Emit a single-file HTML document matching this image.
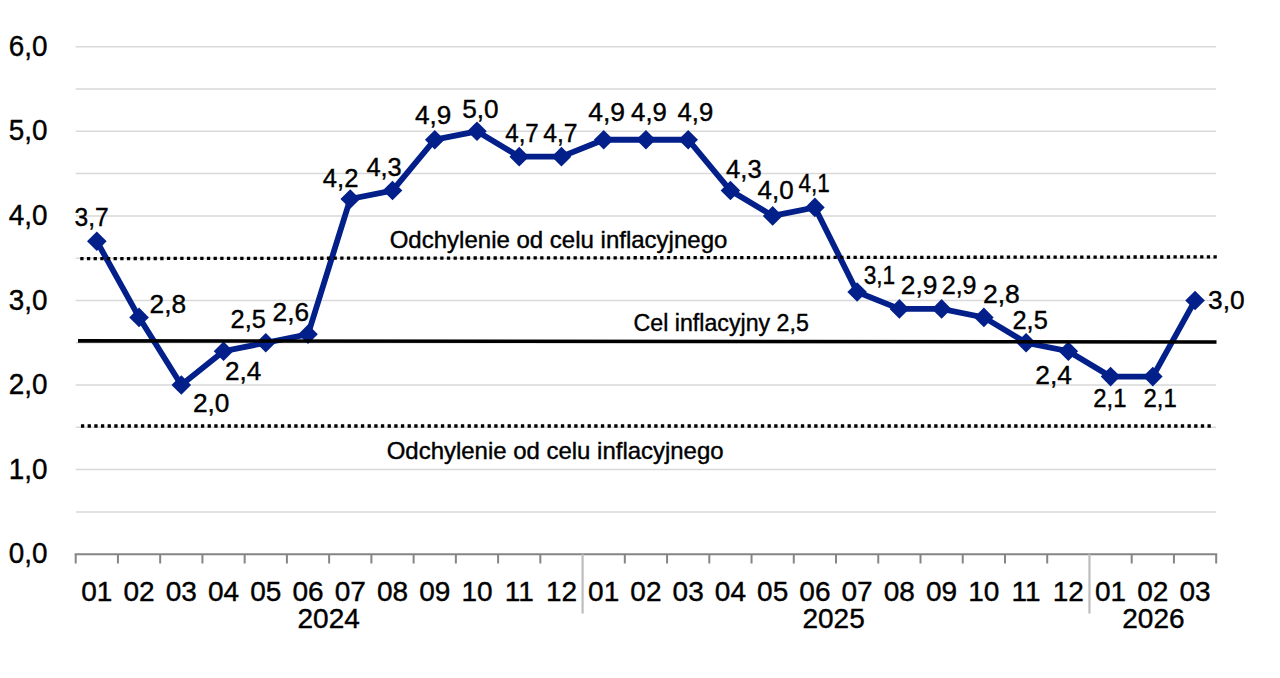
<!DOCTYPE html><html><head><meta charset="utf-8"><style>html,body{margin:0;padding:0;background:#fff;overflow:hidden}svg{display:block}text{font-family:"Liberation Sans",sans-serif;fill:#000;stroke:#000;stroke-width:0.4px}</style></head><body>
<svg width="1280" height="678" viewBox="0 0 1280 678">
<rect width="1280" height="678" fill="#fff"/>
<line x1="75.7" y1="511.91" x2="1216.2" y2="511.91" stroke="#d9d9d9" stroke-width="1.5"/>
<line x1="75.7" y1="469.62" x2="1216.2" y2="469.62" stroke="#d9d9d9" stroke-width="1.5"/>
<line x1="75.7" y1="427.33" x2="1216.2" y2="427.33" stroke="#d9d9d9" stroke-width="1.5"/>
<line x1="75.7" y1="385.04" x2="1216.2" y2="385.04" stroke="#d9d9d9" stroke-width="1.5"/>
<line x1="75.7" y1="342.75" x2="1216.2" y2="342.75" stroke="#d9d9d9" stroke-width="1.5"/>
<line x1="75.7" y1="300.46" x2="1216.2" y2="300.46" stroke="#d9d9d9" stroke-width="1.5"/>
<line x1="75.7" y1="258.17" x2="1216.2" y2="258.17" stroke="#d9d9d9" stroke-width="1.5"/>
<line x1="75.7" y1="215.88" x2="1216.2" y2="215.88" stroke="#d9d9d9" stroke-width="1.5"/>
<line x1="75.7" y1="173.59" x2="1216.2" y2="173.59" stroke="#d9d9d9" stroke-width="1.5"/>
<line x1="75.7" y1="131.30" x2="1216.2" y2="131.30" stroke="#d9d9d9" stroke-width="1.5"/>
<line x1="75.7" y1="89.01" x2="1216.2" y2="89.01" stroke="#d9d9d9" stroke-width="1.5"/>
<line x1="75.7" y1="46.72" x2="1216.2" y2="46.72" stroke="#d9d9d9" stroke-width="1.5"/>
<line x1="74.7" y1="554.20" x2="1217.2" y2="554.20" stroke="#858585" stroke-width="2"/>
<line x1="75.70" y1="554.2" x2="75.70" y2="563.5" stroke="#858585" stroke-width="2"/>
<line x1="117.94" y1="554.2" x2="117.94" y2="563.5" stroke="#858585" stroke-width="2"/>
<line x1="160.18" y1="554.2" x2="160.18" y2="563.5" stroke="#858585" stroke-width="2"/>
<line x1="202.42" y1="554.2" x2="202.42" y2="563.5" stroke="#858585" stroke-width="2"/>
<line x1="244.66" y1="554.2" x2="244.66" y2="563.5" stroke="#858585" stroke-width="2"/>
<line x1="286.90" y1="554.2" x2="286.90" y2="563.5" stroke="#858585" stroke-width="2"/>
<line x1="329.14" y1="554.2" x2="329.14" y2="563.5" stroke="#858585" stroke-width="2"/>
<line x1="371.38" y1="554.2" x2="371.38" y2="563.5" stroke="#858585" stroke-width="2"/>
<line x1="413.62" y1="554.2" x2="413.62" y2="563.5" stroke="#858585" stroke-width="2"/>
<line x1="455.86" y1="554.2" x2="455.86" y2="563.5" stroke="#858585" stroke-width="2"/>
<line x1="498.10" y1="554.2" x2="498.10" y2="563.5" stroke="#858585" stroke-width="2"/>
<line x1="540.34" y1="554.2" x2="540.34" y2="563.5" stroke="#858585" stroke-width="2"/>
<line x1="582.58" y1="554.2" x2="582.58" y2="613.5" stroke="#bdbdbd" stroke-width="2.2"/>
<line x1="624.82" y1="554.2" x2="624.82" y2="563.5" stroke="#858585" stroke-width="2"/>
<line x1="667.06" y1="554.2" x2="667.06" y2="563.5" stroke="#858585" stroke-width="2"/>
<line x1="709.30" y1="554.2" x2="709.30" y2="563.5" stroke="#858585" stroke-width="2"/>
<line x1="751.54" y1="554.2" x2="751.54" y2="563.5" stroke="#858585" stroke-width="2"/>
<line x1="793.78" y1="554.2" x2="793.78" y2="563.5" stroke="#858585" stroke-width="2"/>
<line x1="836.02" y1="554.2" x2="836.02" y2="563.5" stroke="#858585" stroke-width="2"/>
<line x1="878.26" y1="554.2" x2="878.26" y2="563.5" stroke="#858585" stroke-width="2"/>
<line x1="920.50" y1="554.2" x2="920.50" y2="563.5" stroke="#858585" stroke-width="2"/>
<line x1="962.74" y1="554.2" x2="962.74" y2="563.5" stroke="#858585" stroke-width="2"/>
<line x1="1004.98" y1="554.2" x2="1004.98" y2="563.5" stroke="#858585" stroke-width="2"/>
<line x1="1047.22" y1="554.2" x2="1047.22" y2="563.5" stroke="#858585" stroke-width="2"/>
<line x1="1089.46" y1="554.2" x2="1089.46" y2="613.5" stroke="#bdbdbd" stroke-width="2.2"/>
<line x1="1131.70" y1="554.2" x2="1131.70" y2="563.5" stroke="#858585" stroke-width="2"/>
<line x1="1173.94" y1="554.2" x2="1173.94" y2="563.5" stroke="#858585" stroke-width="2"/>
<line x1="1216.18" y1="554.2" x2="1216.18" y2="563.5" stroke="#858585" stroke-width="2"/>
<polyline points="96.82,241.25 139.06,317.38 181.30,385.04 223.54,351.21 265.78,342.75 308.02,334.29 350.26,198.96 392.50,190.51 434.74,139.76 476.98,131.30 519.22,156.67 561.46,156.67 603.70,139.76 645.94,139.76 688.18,139.76 730.42,190.51 772.66,215.88 814.90,207.42 857.14,292.00 899.38,308.92 941.62,308.92 983.86,317.38 1026.10,342.75 1068.34,351.21 1110.58,376.58 1152.82,376.58 1195.06,300.46" fill="none" stroke="#021f8a" stroke-width="5.8" stroke-linejoin="miter" stroke-miterlimit="2"/>
<path d="M96.82 231.45L106.62 241.25L96.82 251.05L87.02 241.25Z" fill="#021f8a"/>
<path d="M139.06 307.58L148.86 317.38L139.06 327.18L129.26 317.38Z" fill="#021f8a"/>
<path d="M181.30 375.24L191.10 385.04L181.30 394.84L171.50 385.04Z" fill="#021f8a"/>
<path d="M223.54 341.41L233.34 351.21L223.54 361.01L213.74 351.21Z" fill="#021f8a"/>
<path d="M265.78 332.95L275.58 342.75L265.78 352.55L255.98 342.75Z" fill="#021f8a"/>
<path d="M308.02 324.49L317.82 334.29L308.02 344.09L298.22 334.29Z" fill="#021f8a"/>
<path d="M350.26 189.16L360.06 198.96L350.26 208.76L340.46 198.96Z" fill="#021f8a"/>
<path d="M392.50 180.71L402.30 190.51L392.50 200.31L382.70 190.51Z" fill="#021f8a"/>
<path d="M434.74 129.96L444.54 139.76L434.74 149.56L424.94 139.76Z" fill="#021f8a"/>
<path d="M476.98 121.50L486.78 131.30L476.98 141.10L467.18 131.30Z" fill="#021f8a"/>
<path d="M519.22 146.87L529.02 156.67L519.22 166.47L509.42 156.67Z" fill="#021f8a"/>
<path d="M561.46 146.87L571.26 156.67L561.46 166.47L551.66 156.67Z" fill="#021f8a"/>
<path d="M603.70 129.96L613.50 139.76L603.70 149.56L593.90 139.76Z" fill="#021f8a"/>
<path d="M645.94 129.96L655.74 139.76L645.94 149.56L636.14 139.76Z" fill="#021f8a"/>
<path d="M688.18 129.96L697.98 139.76L688.18 149.56L678.38 139.76Z" fill="#021f8a"/>
<path d="M730.42 180.71L740.22 190.51L730.42 200.31L720.62 190.51Z" fill="#021f8a"/>
<path d="M772.66 206.08L782.46 215.88L772.66 225.68L762.86 215.88Z" fill="#021f8a"/>
<path d="M814.90 197.62L824.70 207.42L814.90 217.22L805.10 207.42Z" fill="#021f8a"/>
<path d="M857.14 282.20L866.94 292.00L857.14 301.80L847.34 292.00Z" fill="#021f8a"/>
<path d="M899.38 299.12L909.18 308.92L899.38 318.72L889.58 308.92Z" fill="#021f8a"/>
<path d="M941.62 299.12L951.42 308.92L941.62 318.72L931.82 308.92Z" fill="#021f8a"/>
<path d="M983.86 307.58L993.66 317.38L983.86 327.18L974.06 317.38Z" fill="#021f8a"/>
<path d="M1026.10 332.95L1035.90 342.75L1026.10 352.55L1016.30 342.75Z" fill="#021f8a"/>
<path d="M1068.34 341.41L1078.14 351.21L1068.34 361.01L1058.54 351.21Z" fill="#021f8a"/>
<path d="M1110.58 366.78L1120.38 376.58L1110.58 386.38L1100.78 376.58Z" fill="#021f8a"/>
<path d="M1152.82 366.78L1162.62 376.58L1152.82 386.38L1143.02 376.58Z" fill="#021f8a"/>
<path d="M1195.06 290.66L1204.86 300.46L1195.06 310.26L1185.26 300.46Z" fill="#021f8a"/>
<path d="M80.25 256.95h3.3v3.3h-3.3zM86.92 256.94h3.3v3.3h-3.3zM93.58 256.93h3.3v3.3h-3.3zM100.25 256.92h3.3v3.3h-3.3zM106.91 256.91h3.3v3.3h-3.3zM113.58 256.90h3.3v3.3h-3.3zM120.25 256.89h3.3v3.3h-3.3zM126.91 256.88h3.3v3.3h-3.3zM133.58 256.87h3.3v3.3h-3.3zM140.24 256.86h3.3v3.3h-3.3zM146.91 256.85h3.3v3.3h-3.3zM153.58 256.84h3.3v3.3h-3.3zM160.24 256.83h3.3v3.3h-3.3zM166.91 256.82h3.3v3.3h-3.3zM173.57 256.81h3.3v3.3h-3.3zM180.24 256.80h3.3v3.3h-3.3zM186.91 256.79h3.3v3.3h-3.3zM193.57 256.78h3.3v3.3h-3.3zM200.24 256.77h3.3v3.3h-3.3zM206.90 256.76h3.3v3.3h-3.3zM213.57 256.75h3.3v3.3h-3.3zM220.24 256.74h3.3v3.3h-3.3zM226.90 256.73h3.3v3.3h-3.3zM233.57 256.72h3.3v3.3h-3.3zM240.23 256.71h3.3v3.3h-3.3zM246.90 256.70h3.3v3.3h-3.3zM253.57 256.69h3.3v3.3h-3.3zM260.23 256.68h3.3v3.3h-3.3zM266.90 256.67h3.3v3.3h-3.3zM273.56 256.66h3.3v3.3h-3.3zM280.23 256.65h3.3v3.3h-3.3zM286.90 256.64h3.3v3.3h-3.3zM293.56 256.63h3.3v3.3h-3.3zM300.23 256.62h3.3v3.3h-3.3zM306.89 256.61h3.3v3.3h-3.3zM313.56 256.60h3.3v3.3h-3.3zM320.23 256.59h3.3v3.3h-3.3zM326.89 256.58h3.3v3.3h-3.3zM333.56 256.57h3.3v3.3h-3.3zM340.22 256.56h3.3v3.3h-3.3zM346.89 256.55h3.3v3.3h-3.3zM353.56 256.54h3.3v3.3h-3.3zM360.22 256.53h3.3v3.3h-3.3zM366.89 256.52h3.3v3.3h-3.3zM373.55 256.51h3.3v3.3h-3.3zM380.22 256.50h3.3v3.3h-3.3zM386.89 256.49h3.3v3.3h-3.3zM393.55 256.48h3.3v3.3h-3.3zM400.22 256.47h3.3v3.3h-3.3zM406.88 256.46h3.3v3.3h-3.3zM413.55 256.45h3.3v3.3h-3.3zM420.22 256.44h3.3v3.3h-3.3zM426.88 256.43h3.3v3.3h-3.3zM433.55 256.42h3.3v3.3h-3.3zM440.21 256.41h3.3v3.3h-3.3zM446.88 256.40h3.3v3.3h-3.3zM453.55 256.39h3.3v3.3h-3.3zM460.21 256.38h3.3v3.3h-3.3zM466.88 256.37h3.3v3.3h-3.3zM473.54 256.36h3.3v3.3h-3.3zM480.21 256.35h3.3v3.3h-3.3zM486.88 256.34h3.3v3.3h-3.3zM493.54 256.33h3.3v3.3h-3.3zM500.21 256.32h3.3v3.3h-3.3zM506.87 256.31h3.3v3.3h-3.3zM513.54 256.30h3.3v3.3h-3.3zM520.21 256.29h3.3v3.3h-3.3zM526.87 256.28h3.3v3.3h-3.3zM533.54 256.27h3.3v3.3h-3.3zM540.20 256.26h3.3v3.3h-3.3zM546.87 256.25h3.3v3.3h-3.3zM553.54 256.24h3.3v3.3h-3.3zM560.20 256.23h3.3v3.3h-3.3zM566.87 256.22h3.3v3.3h-3.3zM573.53 256.21h3.3v3.3h-3.3zM580.20 256.20h3.3v3.3h-3.3zM586.87 256.19h3.3v3.3h-3.3zM593.53 256.18h3.3v3.3h-3.3zM600.20 256.17h3.3v3.3h-3.3zM606.86 256.16h3.3v3.3h-3.3zM613.53 256.15h3.3v3.3h-3.3zM620.20 256.14h3.3v3.3h-3.3zM626.86 256.13h3.3v3.3h-3.3zM633.53 256.12h3.3v3.3h-3.3zM640.19 256.11h3.3v3.3h-3.3zM646.86 256.10h3.3v3.3h-3.3zM653.53 256.09h3.3v3.3h-3.3zM660.19 256.08h3.3v3.3h-3.3zM666.86 256.07h3.3v3.3h-3.3zM673.52 256.06h3.3v3.3h-3.3zM680.19 256.05h3.3v3.3h-3.3zM686.86 256.04h3.3v3.3h-3.3zM693.52 256.03h3.3v3.3h-3.3zM700.19 256.02h3.3v3.3h-3.3zM706.85 256.01h3.3v3.3h-3.3zM713.52 256.00h3.3v3.3h-3.3zM720.19 255.99h3.3v3.3h-3.3zM726.85 255.98h3.3v3.3h-3.3zM733.52 255.97h3.3v3.3h-3.3zM740.18 255.96h3.3v3.3h-3.3zM746.85 255.95h3.3v3.3h-3.3zM753.52 255.94h3.3v3.3h-3.3zM760.18 255.93h3.3v3.3h-3.3zM766.85 255.92h3.3v3.3h-3.3zM773.51 255.91h3.3v3.3h-3.3zM780.18 255.90h3.3v3.3h-3.3zM786.85 255.89h3.3v3.3h-3.3zM793.51 255.88h3.3v3.3h-3.3zM800.18 255.87h3.3v3.3h-3.3zM806.84 255.86h3.3v3.3h-3.3zM813.51 255.85h3.3v3.3h-3.3zM820.18 255.84h3.3v3.3h-3.3zM826.84 255.83h3.3v3.3h-3.3zM833.51 255.82h3.3v3.3h-3.3zM840.17 255.81h3.3v3.3h-3.3zM846.84 255.80h3.3v3.3h-3.3zM853.51 255.79h3.3v3.3h-3.3zM860.17 255.78h3.3v3.3h-3.3zM866.84 255.77h3.3v3.3h-3.3zM873.50 255.76h3.3v3.3h-3.3zM880.17 255.75h3.3v3.3h-3.3zM886.84 255.74h3.3v3.3h-3.3zM893.50 255.73h3.3v3.3h-3.3zM900.17 255.72h3.3v3.3h-3.3zM906.83 255.71h3.3v3.3h-3.3zM913.50 255.70h3.3v3.3h-3.3zM920.17 255.69h3.3v3.3h-3.3zM926.83 255.68h3.3v3.3h-3.3zM933.50 255.67h3.3v3.3h-3.3zM940.16 255.66h3.3v3.3h-3.3zM946.83 255.65h3.3v3.3h-3.3zM953.50 255.64h3.3v3.3h-3.3zM960.16 255.63h3.3v3.3h-3.3zM966.83 255.62h3.3v3.3h-3.3zM973.49 255.61h3.3v3.3h-3.3zM980.16 255.60h3.3v3.3h-3.3zM986.83 255.59h3.3v3.3h-3.3zM993.49 255.58h3.3v3.3h-3.3zM1000.16 255.57h3.3v3.3h-3.3zM1006.82 255.56h3.3v3.3h-3.3zM1013.49 255.55h3.3v3.3h-3.3zM1020.16 255.54h3.3v3.3h-3.3zM1026.82 255.53h3.3v3.3h-3.3zM1033.49 255.52h3.3v3.3h-3.3zM1040.15 255.51h3.3v3.3h-3.3zM1046.82 255.50h3.3v3.3h-3.3zM1053.49 255.49h3.3v3.3h-3.3zM1060.15 255.48h3.3v3.3h-3.3zM1066.82 255.47h3.3v3.3h-3.3zM1073.48 255.46h3.3v3.3h-3.3zM1080.15 255.45h3.3v3.3h-3.3zM1086.82 255.44h3.3v3.3h-3.3zM1093.48 255.43h3.3v3.3h-3.3zM1100.15 255.42h3.3v3.3h-3.3zM1106.81 255.41h3.3v3.3h-3.3zM1113.48 255.40h3.3v3.3h-3.3zM1120.15 255.39h3.3v3.3h-3.3zM1126.81 255.38h3.3v3.3h-3.3zM1133.48 255.37h3.3v3.3h-3.3zM1140.14 255.36h3.3v3.3h-3.3zM1146.81 255.35h3.3v3.3h-3.3zM1153.48 255.34h3.3v3.3h-3.3zM1160.14 255.34h3.3v3.3h-3.3zM1166.81 255.33h3.3v3.3h-3.3zM1173.47 255.32h3.3v3.3h-3.3zM1180.14 255.31h3.3v3.3h-3.3zM1186.81 255.30h3.3v3.3h-3.3zM1193.47 255.29h3.3v3.3h-3.3zM1200.14 255.28h3.3v3.3h-3.3zM1206.80 255.27h3.3v3.3h-3.3zM1213.47 255.26h3.3v3.3h-3.3z" fill="#000"/>
<path d="M80.95 424.35h3.3v3.3h-3.3zM87.62 424.35h3.3v3.3h-3.3zM94.28 424.35h3.3v3.3h-3.3zM100.95 424.35h3.3v3.3h-3.3zM107.61 424.35h3.3v3.3h-3.3zM114.28 424.35h3.3v3.3h-3.3zM120.95 424.35h3.3v3.3h-3.3zM127.61 424.35h3.3v3.3h-3.3zM134.28 424.35h3.3v3.3h-3.3zM140.94 424.35h3.3v3.3h-3.3zM147.61 424.35h3.3v3.3h-3.3zM154.28 424.35h3.3v3.3h-3.3zM160.94 424.35h3.3v3.3h-3.3zM167.61 424.35h3.3v3.3h-3.3zM174.27 424.35h3.3v3.3h-3.3zM180.94 424.35h3.3v3.3h-3.3zM187.61 424.35h3.3v3.3h-3.3zM194.27 424.35h3.3v3.3h-3.3zM200.94 424.35h3.3v3.3h-3.3zM207.60 424.35h3.3v3.3h-3.3zM214.27 424.35h3.3v3.3h-3.3zM220.94 424.35h3.3v3.3h-3.3zM227.60 424.35h3.3v3.3h-3.3zM234.27 424.35h3.3v3.3h-3.3zM240.93 424.35h3.3v3.3h-3.3zM247.60 424.35h3.3v3.3h-3.3zM254.27 424.35h3.3v3.3h-3.3zM260.93 424.35h3.3v3.3h-3.3zM267.60 424.35h3.3v3.3h-3.3zM274.26 424.35h3.3v3.3h-3.3zM280.93 424.35h3.3v3.3h-3.3zM287.60 424.35h3.3v3.3h-3.3zM294.26 424.35h3.3v3.3h-3.3zM300.93 424.35h3.3v3.3h-3.3zM307.59 424.35h3.3v3.3h-3.3zM314.26 424.35h3.3v3.3h-3.3zM320.93 424.35h3.3v3.3h-3.3zM327.59 424.35h3.3v3.3h-3.3zM334.26 424.35h3.3v3.3h-3.3zM340.92 424.35h3.3v3.3h-3.3zM347.59 424.35h3.3v3.3h-3.3zM354.26 424.35h3.3v3.3h-3.3zM360.92 424.35h3.3v3.3h-3.3zM367.59 424.35h3.3v3.3h-3.3zM374.25 424.35h3.3v3.3h-3.3zM380.92 424.35h3.3v3.3h-3.3zM387.59 424.35h3.3v3.3h-3.3zM394.25 424.35h3.3v3.3h-3.3zM400.92 424.35h3.3v3.3h-3.3zM407.58 424.35h3.3v3.3h-3.3zM414.25 424.35h3.3v3.3h-3.3zM420.92 424.35h3.3v3.3h-3.3zM427.58 424.35h3.3v3.3h-3.3zM434.25 424.35h3.3v3.3h-3.3zM440.91 424.35h3.3v3.3h-3.3zM447.58 424.35h3.3v3.3h-3.3zM454.25 424.35h3.3v3.3h-3.3zM460.91 424.35h3.3v3.3h-3.3zM467.58 424.35h3.3v3.3h-3.3zM474.24 424.35h3.3v3.3h-3.3zM480.91 424.35h3.3v3.3h-3.3zM487.58 424.35h3.3v3.3h-3.3zM494.24 424.35h3.3v3.3h-3.3zM500.91 424.35h3.3v3.3h-3.3zM507.57 424.35h3.3v3.3h-3.3zM514.24 424.35h3.3v3.3h-3.3zM520.91 424.35h3.3v3.3h-3.3zM527.57 424.35h3.3v3.3h-3.3zM534.24 424.35h3.3v3.3h-3.3zM540.90 424.35h3.3v3.3h-3.3zM547.57 424.35h3.3v3.3h-3.3zM554.24 424.35h3.3v3.3h-3.3zM560.90 424.35h3.3v3.3h-3.3zM567.57 424.35h3.3v3.3h-3.3zM574.23 424.35h3.3v3.3h-3.3zM580.90 424.35h3.3v3.3h-3.3zM587.57 424.35h3.3v3.3h-3.3zM594.23 424.35h3.3v3.3h-3.3zM600.90 424.35h3.3v3.3h-3.3zM607.56 424.35h3.3v3.3h-3.3zM614.23 424.35h3.3v3.3h-3.3zM620.90 424.35h3.3v3.3h-3.3zM627.56 424.35h3.3v3.3h-3.3zM634.23 424.35h3.3v3.3h-3.3zM640.89 424.35h3.3v3.3h-3.3zM647.56 424.35h3.3v3.3h-3.3zM654.23 424.35h3.3v3.3h-3.3zM660.89 424.35h3.3v3.3h-3.3zM667.56 424.35h3.3v3.3h-3.3zM674.22 424.35h3.3v3.3h-3.3zM680.89 424.35h3.3v3.3h-3.3zM687.56 424.35h3.3v3.3h-3.3zM694.22 424.35h3.3v3.3h-3.3zM700.89 424.35h3.3v3.3h-3.3zM707.55 424.35h3.3v3.3h-3.3zM714.22 424.35h3.3v3.3h-3.3zM720.89 424.35h3.3v3.3h-3.3zM727.55 424.35h3.3v3.3h-3.3zM734.22 424.35h3.3v3.3h-3.3zM740.88 424.35h3.3v3.3h-3.3zM747.55 424.35h3.3v3.3h-3.3zM754.22 424.35h3.3v3.3h-3.3zM760.88 424.35h3.3v3.3h-3.3zM767.55 424.35h3.3v3.3h-3.3zM774.21 424.35h3.3v3.3h-3.3zM780.88 424.35h3.3v3.3h-3.3zM787.55 424.35h3.3v3.3h-3.3zM794.21 424.35h3.3v3.3h-3.3zM800.88 424.35h3.3v3.3h-3.3zM807.54 424.35h3.3v3.3h-3.3zM814.21 424.35h3.3v3.3h-3.3zM820.88 424.35h3.3v3.3h-3.3zM827.54 424.35h3.3v3.3h-3.3zM834.21 424.35h3.3v3.3h-3.3zM840.87 424.35h3.3v3.3h-3.3zM847.54 424.35h3.3v3.3h-3.3zM854.21 424.35h3.3v3.3h-3.3zM860.87 424.35h3.3v3.3h-3.3zM867.54 424.35h3.3v3.3h-3.3zM874.20 424.35h3.3v3.3h-3.3zM880.87 424.35h3.3v3.3h-3.3zM887.54 424.35h3.3v3.3h-3.3zM894.20 424.35h3.3v3.3h-3.3zM900.87 424.35h3.3v3.3h-3.3zM907.53 424.35h3.3v3.3h-3.3zM914.20 424.35h3.3v3.3h-3.3zM920.87 424.35h3.3v3.3h-3.3zM927.53 424.35h3.3v3.3h-3.3zM934.20 424.35h3.3v3.3h-3.3zM940.86 424.35h3.3v3.3h-3.3zM947.53 424.35h3.3v3.3h-3.3zM954.20 424.35h3.3v3.3h-3.3zM960.86 424.35h3.3v3.3h-3.3zM967.53 424.35h3.3v3.3h-3.3zM974.19 424.35h3.3v3.3h-3.3zM980.86 424.35h3.3v3.3h-3.3zM987.53 424.35h3.3v3.3h-3.3zM994.19 424.35h3.3v3.3h-3.3zM1000.86 424.35h3.3v3.3h-3.3zM1007.52 424.35h3.3v3.3h-3.3zM1014.19 424.35h3.3v3.3h-3.3zM1020.86 424.35h3.3v3.3h-3.3zM1027.52 424.35h3.3v3.3h-3.3zM1034.19 424.35h3.3v3.3h-3.3zM1040.85 424.35h3.3v3.3h-3.3zM1047.52 424.35h3.3v3.3h-3.3zM1054.19 424.35h3.3v3.3h-3.3zM1060.85 424.35h3.3v3.3h-3.3zM1067.52 424.35h3.3v3.3h-3.3zM1074.18 424.35h3.3v3.3h-3.3zM1080.85 424.35h3.3v3.3h-3.3zM1087.52 424.35h3.3v3.3h-3.3zM1094.18 424.35h3.3v3.3h-3.3zM1100.85 424.35h3.3v3.3h-3.3zM1107.51 424.35h3.3v3.3h-3.3zM1114.18 424.35h3.3v3.3h-3.3zM1120.85 424.35h3.3v3.3h-3.3zM1127.51 424.35h3.3v3.3h-3.3zM1134.18 424.35h3.3v3.3h-3.3zM1140.84 424.35h3.3v3.3h-3.3zM1147.51 424.35h3.3v3.3h-3.3zM1154.18 424.35h3.3v3.3h-3.3zM1160.84 424.35h3.3v3.3h-3.3zM1167.51 424.35h3.3v3.3h-3.3zM1174.17 424.35h3.3v3.3h-3.3zM1180.84 424.35h3.3v3.3h-3.3zM1187.51 424.35h3.3v3.3h-3.3zM1194.17 424.35h3.3v3.3h-3.3zM1200.84 424.35h3.3v3.3h-3.3zM1207.50 424.35h3.3v3.3h-3.3z" fill="#000"/>
<path d="M78 339.1L1216.5 340.15L1216.5 343.75L78 342.7Z" fill="#000"/>
<text transform="translate(47.4 563.2) scale(0.975 1)" font-size="28.6" text-anchor="end">0,0</text>
<text transform="translate(47.4 478.6) scale(0.975 1)" font-size="28.6" text-anchor="end">1,0</text>
<text transform="translate(47.4 394.0) scale(0.975 1)" font-size="28.6" text-anchor="end">2,0</text>
<text transform="translate(47.4 309.5) scale(0.975 1)" font-size="28.6" text-anchor="end">3,0</text>
<text transform="translate(47.4 224.9) scale(0.975 1)" font-size="28.6" text-anchor="end">4,0</text>
<text transform="translate(47.4 140.3) scale(0.975 1)" font-size="28.6" text-anchor="end">5,0</text>
<text transform="translate(47.4 55.7) scale(0.975 1)" font-size="28.6" text-anchor="end">6,0</text>
<text x="96.82" y="600.8" font-size="28" text-anchor="middle">01</text>
<text x="139.06" y="600.8" font-size="28" text-anchor="middle">02</text>
<text x="181.30" y="600.8" font-size="28" text-anchor="middle">03</text>
<text x="223.54" y="600.8" font-size="28" text-anchor="middle">04</text>
<text x="265.78" y="600.8" font-size="28" text-anchor="middle">05</text>
<text x="308.02" y="600.8" font-size="28" text-anchor="middle">06</text>
<text x="350.26" y="600.8" font-size="28" text-anchor="middle">07</text>
<text x="392.50" y="600.8" font-size="28" text-anchor="middle">08</text>
<text x="434.74" y="600.8" font-size="28" text-anchor="middle">09</text>
<text x="476.98" y="600.8" font-size="28" text-anchor="middle">10</text>
<text x="519.22" y="600.8" font-size="28" text-anchor="middle">11</text>
<text x="561.46" y="600.8" font-size="28" text-anchor="middle">12</text>
<text x="603.70" y="600.8" font-size="28" text-anchor="middle">01</text>
<text x="645.94" y="600.8" font-size="28" text-anchor="middle">02</text>
<text x="688.18" y="600.8" font-size="28" text-anchor="middle">03</text>
<text x="730.42" y="600.8" font-size="28" text-anchor="middle">04</text>
<text x="772.66" y="600.8" font-size="28" text-anchor="middle">05</text>
<text x="814.90" y="600.8" font-size="28" text-anchor="middle">06</text>
<text x="857.14" y="600.8" font-size="28" text-anchor="middle">07</text>
<text x="899.38" y="600.8" font-size="28" text-anchor="middle">08</text>
<text x="941.62" y="600.8" font-size="28" text-anchor="middle">09</text>
<text x="983.86" y="600.8" font-size="28" text-anchor="middle">10</text>
<text x="1026.10" y="600.8" font-size="28" text-anchor="middle">11</text>
<text x="1068.34" y="600.8" font-size="28" text-anchor="middle">12</text>
<text x="1110.58" y="600.8" font-size="28" text-anchor="middle">01</text>
<text x="1152.82" y="600.8" font-size="28" text-anchor="middle">02</text>
<text x="1195.06" y="600.8" font-size="28" text-anchor="middle">03</text>
<text x="328.70" y="628.2" font-size="28" text-anchor="middle">2024</text>
<text x="833.60" y="628.2" font-size="28" text-anchor="middle">2025</text>
<text x="1153.40" y="628.2" font-size="28" text-anchor="middle">2026</text>
<text transform="translate(74.50 225.80) scale(0.932 1)" font-size="26.4">3,7</text>
<text transform="translate(149.55 312.90) scale(0.997 1)" font-size="26.4">2,8</text>
<text transform="translate(192.96 412.30) scale(0.994 1)" font-size="26.4">2,0</text>
<text transform="translate(225.07 379.60) scale(0.987 1)" font-size="26.4">2,4</text>
<text transform="translate(230.60 328.20) scale(0.962 1)" font-size="26.4">2,5</text>
<text transform="translate(272.56 320.90) scale(0.994 1)" font-size="26.4">2,6</text>
<text transform="translate(322.82 186.60) scale(0.969 1)" font-size="26.4">4,2</text>
<text transform="translate(366.42 175.70) scale(0.962 1)" font-size="26.4">4,3</text>
<text transform="translate(414.91 123.60) scale(0.989 1)" font-size="26.4">4,9</text>
<text transform="translate(462.26 117.50) scale(0.991 1)" font-size="26.4">5,0</text>
<text transform="translate(505.24 141.80) scale(0.914 1)" font-size="26.4">4,7</text>
<text transform="translate(543.23 141.80) scale(0.934 1)" font-size="26.4">4,7</text>
<text transform="translate(588.20 121.00) scale(1.003 1)" font-size="26.4">4,9</text>
<text transform="translate(631.11 121.00) scale(0.974 1)" font-size="26.4">4,9</text>
<text transform="translate(677.51 121.00) scale(0.974 1)" font-size="26.4">4,9</text>
<text transform="translate(726.12 177.80) scale(0.967 1)" font-size="26.4">4,3</text>
<text transform="translate(757.51 199.40) scale(0.984 1)" font-size="26.4">4,0</text>
<text transform="translate(798.47 192.20) scale(0.854 1)" font-size="26.4">4,1</text>
<text transform="translate(863.65 284.30) scale(0.860 1)" font-size="26.4">3,1</text>
<text transform="translate(900.75 294.20) scale(0.999 1)" font-size="26.4">2,9</text>
<text transform="translate(941.71 294.20) scale(0.949 1)" font-size="26.4">2,9</text>
<text transform="translate(982.95 303.10) scale(1.003 1)" font-size="26.4">2,8</text>
<text transform="translate(1012.50 328.50) scale(0.962 1)" font-size="26.4">2,5</text>
<text transform="translate(1035.25 383.80) scale(0.999 1)" font-size="26.4">2,4</text>
<text transform="translate(1093.27 407.20) scale(0.905 1)" font-size="26.4">2,1</text>
<text transform="translate(1143.47 407.20) scale(0.905 1)" font-size="26.4">2,1</text>
<text transform="translate(1208.05 308.80) scale(0.997 1)" font-size="26.4">3,0</text>
<text transform="translate(389.70 247.70) scale(1.0007 1)" font-size="24">Odchylenie od celu inflacyjnego</text>
<text transform="translate(386.70 458.60) scale(0.9987 1)" font-size="24">Odchylenie od celu inflacyjnego</text>
<text transform="translate(633.53 330.50) scale(0.9666 1)" font-size="24">Cel inflacyjny 2,5</text>
</svg></body></html>
